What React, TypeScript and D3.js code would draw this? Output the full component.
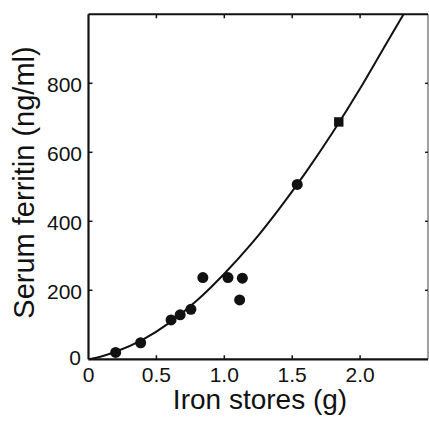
import React from "react"
import * as d3 from "d3"

const width = 429
const height = 421

// measured points: iron stores (g) vs serum ferritin (ng/ml)
const ironStores = [0.2, 0.384, 0.608, 0.675, 0.754, 0.842, 1.027, 1.133, 1.113, 1.537]
const ferritin = [20, 48, 114, 129, 145, 237, 237, 235, 172, 507]
// the single square marker
const squareX = [1.843]
const squareY = [688]

// fitted curve
const curveX = [0, 0.1, 0.2, 0.4, 0.6, 0.8, 1.0, 1.2, 1.4, 1.6, 1.8, 2.0, 2.2, 2.32]
const curveY = [0, 9, 22, 57, 107, 171, 248, 335, 434, 542, 659, 785, 920, 1000]

const xTicks = [0, 0.5, 1.0, 1.5, 2.0]
const xTickLabels = ["0", "0.5", "1.0", "1.5", "2.0"]
const yTicks = [0, 200, 400, 600, 800]

const App = () => {
  const x = d3.scaleLinear().domain([0, 2.5]).range([88.5, 428])
  const y = d3.scaleLinear().domain([0, 1000]).range([359.3, 14.3])

  const line = d3
    .line<number>()
    .x((d, i) => x(curveX[i]))
    .y(d => y(d))
    .curve(d3.curveMonotoneX)

  const font = "Liberation Sans, Arial, Helvetica, sans-serif"

  return (
    <svg
      width={width}
      height={height}
      style={{ position: "absolute", left: 0, top: 0, background: "#fff" }}
      fontFamily={font}
    >
      {/* frame */}
      <line x1={x(2.5)} x2={x(2.5)} y1={y(1000)} y2={y(0)} stroke="#444" strokeWidth={1} />
      <line x1={x(0)} x2={x(2.5)} y1={y(1000)} y2={y(1000)} stroke="#111" strokeWidth={2} />
      <line x1={x(0)} x2={x(2.5)} y1={y(0)} y2={y(0)} stroke="#111" strokeWidth={2.2} />
      <line x1={x(0)} x2={x(0)} y1={y(1000)} y2={y(0)} stroke="#111" strokeWidth={2.2} />

      {/* inward ticks */}
      {xTicks.slice(1).map(t => (
        <g key={"xt" + t}>
          <line x1={x(t)} x2={x(t)} y1={y(0)} y2={y(0) - 4} stroke="#111" strokeWidth={1.5} />
          <line x1={x(t)} x2={x(t)} y1={y(1000)} y2={y(1000) + 4} stroke="#111" strokeWidth={1.5} />
        </g>
      ))}
      {yTicks.slice(1).map(t => (
        <g key={"yt" + t}>
          <line x1={x(0)} x2={x(0) + 4} y1={y(t)} y2={y(t)} stroke="#111" strokeWidth={1.5} />
          <line x1={x(2.5)} x2={x(2.5) - 3} y1={y(t)} y2={y(t)} stroke="#222" strokeWidth={1.5} />
        </g>
      ))}

      {/* tick labels */}
      {xTicks.map((t, i) => (
        <text
          key={"xl" + t}
          x={x(t)}
          y={382}
          textAnchor="middle"
          fontSize={21}
          fill="#111"
        >
          {xTickLabels[i]}
        </text>
      ))}
      {yTicks.map(t => (
        <text
          key={"yl" + t}
          x={t === 0 ? 81 : 82}
          y={y(t) + (t === 0 ? 6 : 8.5)}
          textAnchor="end"
          fontSize={21}
          fill="#111"
        >
          {t}
        </text>
      ))}

      {/* axis titles */}
      <text x={260} y={409} textAnchor="middle" fontSize={28} fill="#111">
        Iron stores (g)
      </text>
      <text
        transform={`translate(34,182.5) rotate(-90)`}
        textAnchor="middle"
        fontSize={29}
        fill="#111"
      >
        Serum ferritin (ng/ml)
      </text>

      {/* curve */}
      <path d={line(curveY) || ""} fill="none" stroke="#111" strokeWidth={2} />

      {/* points */}
      {ironStores.map((v, i) => (
        <circle key={"p" + i} cx={x(v)} cy={y(ferritin[i])} r={5.5} fill="#111" />
      ))}
      {squareX.map((v, i) => (
        <rect
          key={"s" + i}
          x={x(v) - 4.7}
          y={y(squareY[i]) - 4.7}
          width={9.4}
          height={9.4}
          fill="#111"
        />
      ))}
    </svg>
  )
}

export default App
